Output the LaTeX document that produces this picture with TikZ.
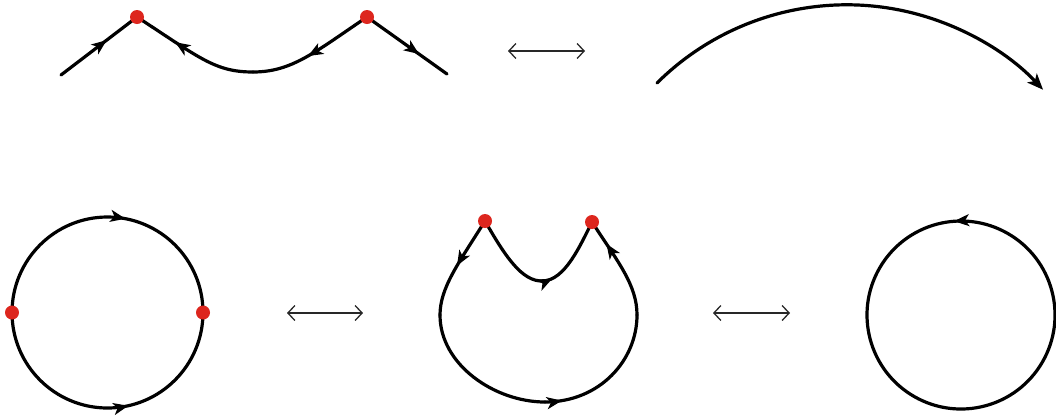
\documentclass[tikz,border=0pt]{standalone}
\usetikzlibrary{arrows.meta,decorations.markings}
\definecolor{dotred}{RGB}{221,38,30}
\definecolor{thinarr}{RGB}{40,40,40}
\tikzset{
  curve/.style={line width=3.2pt, line cap=round, black},
  arrowat/.style={postaction={decorate}, decoration={markings, mark=at position #1 with {\arrow{Stealth[length=15pt,width=12pt,inset=4pt]}}}},
  reddot/.style={circle, fill=dotred, minimum size=14pt, inner sep=0pt},
  swap/.style={thinarr, line width=1.3pt, {Straight Barb[length=7pt,width=15pt]}-{Straight Barb[length=7pt,width=15pt]}}
}
\begin{document}
\begin{tikzpicture}[x=1pt,y=-1pt]
\useasboundingbox (0,0) rectangle (1056,416);
% ---------- top row ----------
\coordinate (s0) at (61,75);
\coordinate (d1) at (137,17);
\coordinate (mn) at (253,72);
\coordinate (d2) at (367,17);
\coordinate (s1) at (447,74);
\draw[curve, arrowat=0.6] (s0) -- (d1);
\draw[curve, arrowat=0.55] (d2) .. controls (315,52) and (292,72) .. (mn);
\draw[curve, arrowat=0.65] (mn) .. controls (215,72) and (200,58) .. (d1);
\draw[curve, arrowat=0.65] (d2) -- (s1);
\node[reddot] (p1) at (d1) {};
\node[reddot] (p2) at (d2) {};

\coordinate (a1l) at (508,51);
\coordinate (a1r) at (585,51);
\draw[swap] (a1l) -- (a1r);

\coordinate (arcs) at (657,83);
\draw[curve, -{Stealth[length=16pt,width=13pt,inset=4pt]}] (arcs) arc[start angle=-134.8, end angle=-43.2, radius=269.3];

% ---------- bottom row ----------
\coordinate (cl) at (12,312.5);
\coordinate (cr) at (203,312.5);
\draw[curve, arrowat=0.56] (cl) arc[start angle=180, end angle=360, radius=95.5];
\draw[curve, arrowat=0.57] (cl) arc[start angle=180, end angle=0, radius=95.5];
\node[reddot] (q1) at (cl) {};
\node[reddot] (q2) at (cr) {};

\coordinate (a2l) at (287,313);
\coordinate (a2r) at (363,313);
\draw[swap] (a2l) -- (a2r);

\coordinate (m1) at (485,221);
\coordinate (m2) at (592,222);
\coordinate (ml) at (440,315);
\coordinate (mb) at (545,402);
\coordinate (mr) at (637,315);
\draw[curve, arrowat=0.58] (m1) .. controls (505,256) and (522,282) .. (543,281) .. controls (565,280) and (580,246) .. (m2);
\draw[curve, arrowat=0.5] (m1) .. controls (458,264) and (440,288) .. (ml);
\draw[curve] (ml) .. controls (440,365) and (495,402) .. (mb);
\draw[curve, arrowat=0.12] (mb) .. controls (600,402) and (637,360) .. (mr);
\draw[curve, arrowat=0.75] (mr) .. controls (637,285) and (618,262) .. (m2);
\node[reddot] (r1) at (m1) {};
\node[reddot] (r2) at (m2) {};

\coordinate (a3l) at (713,313);
\coordinate (a3r) at (790,313);
\draw[swap] (a3l) -- (a3r);

\coordinate (ct) at (1008,233.6);
\draw[curve, arrowat=0.095] (ct) arc[start angle=300, end angle=-60, radius=94];
\end{tikzpicture}
\end{document}
